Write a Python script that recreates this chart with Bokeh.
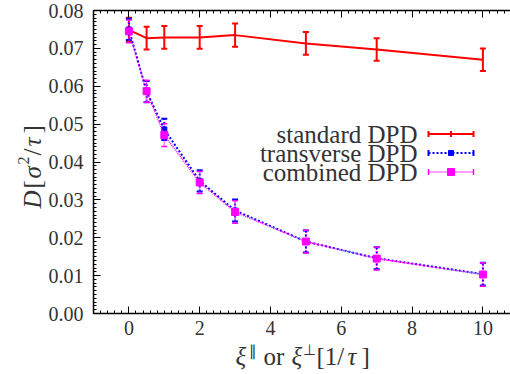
import numpy as np
from bokeh.plotting import figure
from bokeh.models import (Range1d, ColumnDataSource, Whisker, TeeHead, LinearAxis,
                          FixedTicker, PrintfTickFormatter, Label, Arrow)
from bokeh.embed import file_html
from bokeh.resources import INLINE

# ---------------- data ----------------
xi = [0, 0.5, 1, 2, 3, 5, 7, 10]
d_standard = [0.0749, 0.0727, 0.0729, 0.0729, 0.0735, 0.0713, 0.0697, 0.0670]
err_standard = [0.0032, 0.0030, 0.0030, 0.0030, 0.0031, 0.0030, 0.0030, 0.0030]
d_transverse = [0.0750, 0.0586, 0.0486, 0.0350, 0.0272, 0.0190, 0.0146, 0.0104]
err_transverse = [0.0028, 0.0028, 0.0028, 0.0028, 0.0029, 0.0029, 0.0029, 0.0030]
d_combined = [0.0745, 0.0587, 0.0471, 0.0346, 0.0268, 0.0190, 0.0145, 0.0103]
err_combined = [0.0030, 0.0029, 0.0030, 0.0029, 0.0030, 0.0030, 0.0030, 0.0031]
series_names = ["standard DPD", "transverse DPD", "combined DPD"]
x_ticks = [0, 2, 4, 6, 8, 10]
y_ticks = [0.0, 0.01, 0.02, 0.03, 0.04, 0.05, 0.06, 0.07, 0.08]

# ---------------- geometry ----------------
# The plotting frame covers the whole canvas; the axes sit at fixed locations so
# that the axis titles (built from several text pieces) are not clipped.
W, H = 510, 374
FL, FR, FT, FB = 93, 510, 10, 313          # pixel box of the drawn axes
AX0, AX1 = -1.0, 10.78                      # x extent of the axes box
AY0, AY1 = 0.0, 0.08                        # y extent of the axes box
SX = (FR - FL) / (AX1 - AX0)
SY = (FB - FT) / (AY1 - AY0)


def px2x(px):
    return AX0 + (px - FL) / SX


def px2y(py):
    return AY0 + (FB - py) / SY


RED, BLUE, MAG = "#ff0000", "#0000ff", "#ff00ff"
TXT = "#333333"
SERIF = "Liberation Serif, serif"

p = figure(width=W, height=H,
           x_range=Range1d(px2x(0), px2x(W)), y_range=Range1d(px2y(H), px2y(0)),
           output_backend="svg", toolbar_location=None,
           x_axis_location=None, y_axis_location=None,
           min_border_left=0, min_border_right=0, min_border_top=0,
           min_border_bottom=0)
p.outline_line_color = None
p.xgrid.visible = False
p.ygrid.visible = False
p.background_fill_color = "white"
p.border_fill_color = "white"

x_minor = [round(v, 2) for v in np.arange(-1.0, 10.81, 0.2)]
y_minor = [round(v, 4) for v in np.arange(0.0, 0.0801, 0.001)]

bottom = LinearAxis(fixed_location=AY0, bounds=(AX0, AX1))
top = LinearAxis(fixed_location=AY1, bounds=(AX0, AX1))
left = LinearAxis(fixed_location=AX0, bounds=(AY0, AY1))
p.add_layout(bottom, "below")
p.add_layout(top, "above")
p.add_layout(left, "left")

for ax in [bottom, top]:
    ax.ticker = FixedTicker(ticks=x_ticks, minor_ticks=x_minor)
left.ticker = FixedTicker(ticks=y_ticks, minor_ticks=y_minor)
left.formatter = PrintfTickFormatter(format="%.2f")
for ax in [bottom, top, left]:
    ax.major_tick_in = 7
    ax.major_tick_out = 0
    ax.minor_tick_in = 3
    ax.minor_tick_out = 0
    ax.axis_line_width = 1.5
    ax.axis_line_color = "black"
    ax.major_tick_line_color = "black"
    ax.minor_tick_line_color = "black"
    ax.major_label_text_font = SERIF
    ax.major_label_text_font_size = "20px"
    ax.major_label_text_color = TXT
bottom.major_label_standoff = 7
left.major_label_standoff = 10
top.major_label_overrides = {t: "" for t in x_ticks}
top.major_label_standoff = 0

# ---------------- series ----------------
specs = [
    (d_standard, err_standard, RED, "solid", 2.0, None, 0),
    (d_transverse, err_transverse, BLUE, "2 2", 2.0, "square", 5),
    (d_combined, err_combined, MAG, "1 1", 1.5, "square", 7),
]
for d, e, col, dash, lw, mk, ms in specs:
    src = ColumnDataSource(dict(x=xi, y=d,
                                lo=[a - b for a, b in zip(d, e)],
                                hi=[a + b for a, b in zip(d, e)]))
    p.line("x", "y", source=src, line_color=col, line_width=lw, line_dash=dash)
    wk = Whisker(base="x", lower="lo", upper="hi", source=src, dimension="height",
                 line_color=col, line_width=lw, line_dash=dash,
                 lower_head=TeeHead(size=6, line_color=col, line_width=lw),
                 upper_head=TeeHead(size=6, line_color=col, line_width=lw))
    p.add_layout(wk)
    if mk:
        p.scatter("x", "y", source=src, marker=mk, size=ms, fill_color=col,
                  line_color=col)

# ---------------- legend (text then sample) ----------------
leg_rows_py = [133.5, 152.5, 171.5]
for name, (d, e, col, dash, lw, mk, ms), py in zip(series_names, specs, leg_rows_py):
    p.add_layout(Label(x=px2x(417), y=px2y(py), text=name, text_align="right",
                       text_baseline="middle", text_font=SERIF,
                       text_font_size="25px", text_color=TXT))
    p.add_layout(Arrow(x_start=px2x(428), y_start=px2y(py), x_end=px2x(473),
                       y_end=px2y(py), line_color=col, line_width=lw, line_dash=dash,
                       start=TeeHead(size=6, line_color=col, line_width=lw),
                       end=TeeHead(size=6, line_color=col, line_width=lw)))
    cx, cy = px2x(450.5), px2y(py)
    if mk:
        p.scatter(x=[cx], y=[cy], marker=mk, size=ms, fill_color=col, line_color=col)
    else:
        p.scatter(x=[cx], y=[cy], marker="dash", angle=np.pi / 2, size=6,
                  line_color=col, line_width=2)


# ---------------- axis titles ----------------
def lab(text, px, py, size="25px", style="normal", **kw):
    kw.setdefault("text_baseline", "alphabetic")
    p.add_layout(Label(x=px2x(px), y=px2y(py), text=text, text_font=SERIF,
                       text_font_size=size, text_font_style=style,
                       text_color=TXT, **kw))


base = 356
lab("ξ", 235, base, style="italic")
lab("∥", 248, 350, size="15px")
lab("or", 263, base)
lab("ξ", 291, base, style="italic")
lab("⊥", 302, 349, size="15px")
lab("[1/", 316, base)
lab("τ", 347, base, style="italic")
lab("]", 361, base)

rot = dict(angle=np.pi / 2, text_align="left")
ybase = 32
lab("D", ybase, 208, style="italic", **rot)
lab("[", ybase, 188, **rot)
lab("σ", ybase, 178, style="italic", **rot)
lab("2", ybase - 9, 164, size="16px", **rot)
lab("/", ybase, 155, **rot)
lab("τ", ybase, 146, style="italic", **rot)
lab("]", ybase, 133, **rot)

open("out.html", "w").write(file_html(p, INLINE))
